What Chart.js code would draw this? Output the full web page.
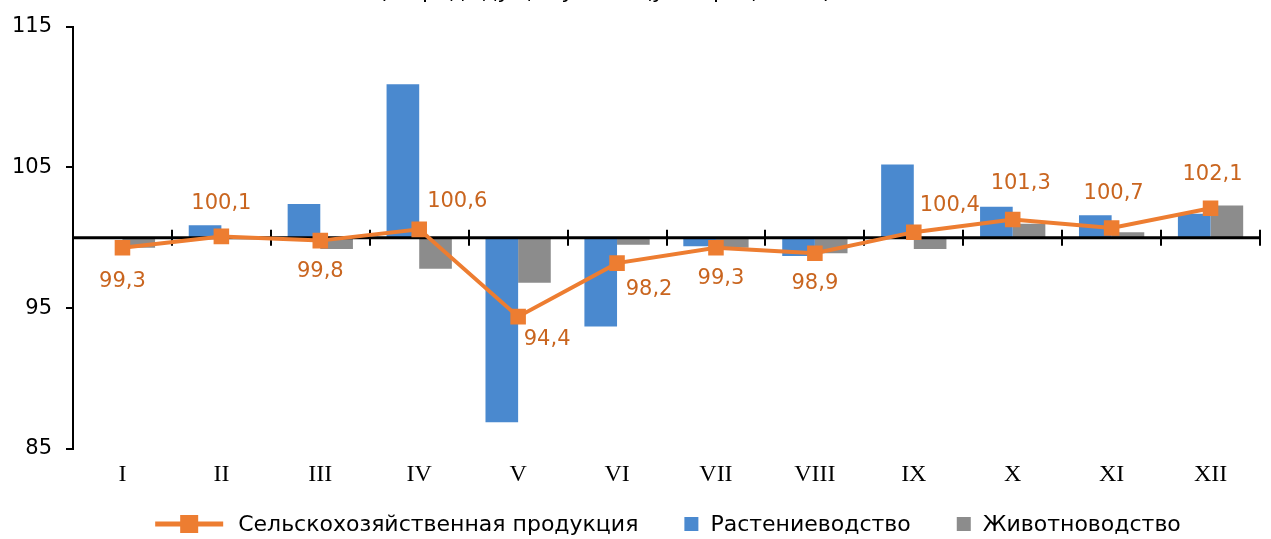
<!DOCTYPE html>
<html>
<head>
<meta charset="utf-8">
<script src="https://cdn.jsdelivr.net/npm/chart.js@4.4.1/dist/chart.umd.min.js"></script>
<style>
    html, body { margin: 0; padding: 0; background: #fff; overflow: hidden; }
    #wrap { position: relative; width: 1271px; height: 539px; }
</style>
</head>
<body>
<div id="wrap"><canvas id="chart"></canvas></div>
<script>
// ---- data ----
const months = ['I', 'II', 'III', 'IV', 'V', 'VI', 'VII', 'VIII', 'IX', 'X', 'XI', 'XII'];
const totalProduction = [99.3, 100.1, 99.8, 100.6, 94.4, 98.2, 99.3, 98.9, 100.4, 101.3, 100.7, 102.1];
const cropProduction = [100.0, 100.9, 102.4, 110.9, 86.9, 93.7, 99.4, 98.7, 105.2, 102.2, 101.6, 101.7];
const livestockProduction = [99.3, 100.0, 99.2, 97.8, 96.8, 99.5, 99.3, 98.9, 99.2, 101.0, 100.4, 102.3];
const yTicks = [85, 95, 105, 115];
const baseLevel = 100;
const titleText = '(к предыдущему месяцу, в процентах)';

// label placement next to each marker [dx, dy]
const labelOffsets = [[0, 34], [0, -33], [0, 31], [38, -28], [29, 23], [32, 26],
                      [5, 31], [0, 30], [36, -27], [8, -36], [2, -34], [2, -34]];

const ORANGE = '#ED7D31';
const LABEL_ORANGE = '#C9651F';
const BLUE = '#4A89CF';
const GREY = '#8C8C8C';

const fmt = v => v.toFixed(1).replace('.', ',');

// x axis drawn through 100, with tick marks between categories
const midAxis = {
    id: 'midAxis',
    beforeDatasetDraw(chart, args) {
        if (args.meta.type !== 'line') return;
        const { ctx, chartArea, scales: { x, y } } = chart;
        const yy = y.getPixelForValue(baseLevel);
        const step = x.getPixelForValue(1) - x.getPixelForValue(0);
        ctx.save();
        ctx.strokeStyle = '#000';
        ctx.lineWidth = 3;
        ctx.beginPath();
        ctx.moveTo(chartArea.left, yy);
        ctx.lineTo(chartArea.right, yy);
        ctx.stroke();
        ctx.lineWidth = 2;
        ctx.beginPath();
        for (let i = 0; i < months.length; i++) {
            const bx = Math.round(x.getPixelForValue(i) + step / 2);
            ctx.moveTo(bx, yy - 8);
            ctx.lineTo(bx, yy + 8);
        }
        ctx.stroke();
        ctx.restore();
    }
};

const valueLabels = {
    id: 'valueLabels',
    afterDatasetsDraw(chart) {
        const ctx = chart.ctx;
        const meta = chart.getDatasetMeta(0);
        ctx.save();
        ctx.font = '21px "DejaVu Sans"';
        ctx.fillStyle = LABEL_ORANGE;
        ctx.textAlign = 'center';
        ctx.textBaseline = 'middle';
        meta.data.forEach((pt, i) => {
            const [dx, dy] = labelOffsets[i];
            ctx.fillText(fmt(totalProduction[i]), pt.x + dx, pt.y + dy);
        });
        ctx.restore();
    }
};

// title is cut off by the top edge of the picture
const cutTitle = {
    id: 'cutTitle',
    afterDraw(chart) {
        const ctx = chart.ctx;
        ctx.save();
        ctx.font = '22px "DejaVu Sans"';
        ctx.fillStyle = '#000';
        ctx.textAlign = 'center';
        ctx.textBaseline = 'alphabetic';
        ctx.fillText(titleText, 605, -2);
        ctx.restore();
    }
};

const bottomLegend = {
    id: 'bottomLegend',
    afterDraw(chart) {
        const ctx = chart.ctx;
        const ds = chart.data.datasets;
        const yc = 524;
        ctx.save();
        ctx.font = '22px "DejaVu Sans"';
        ctx.textBaseline = 'middle';
        const items = ds.map(d => ({
            label: d.label,
            color: d.backgroundColor,
            isLine: d.type === 'line',
            icon: d.type === 'line' ? 68 : 14,
            gap: d.type === 'line' ? 15 : 12,
            tw: ctx.measureText(d.label).width
        }));
        const spacing = 46;
        const total = items.reduce((s, it) => s + it.icon + it.gap + it.tw, 0) + spacing * (items.length - 1);
        let x = 668 - total / 2;
        items.forEach(it => {
            if (it.isLine) {
                ctx.strokeStyle = it.color;
                ctx.lineWidth = 5;
                ctx.beginPath();
                ctx.moveTo(x, yc);
                ctx.lineTo(x + it.icon, yc);
                ctx.stroke();
                ctx.fillStyle = it.color;
                ctx.fillRect(x + it.icon / 2 - 9, yc - 9, 18, 18);
            } else {
                ctx.fillStyle = it.color;
                ctx.fillRect(x, yc - 7, 14, 14);
            }
            x += it.icon + it.gap;
            ctx.fillStyle = '#000';
            ctx.fillText(it.label, x, yc + 1);
            x += it.tw + spacing;
        });
        ctx.restore();
    }
};

const ctx = document.getElementById('chart').getContext('2d');
new Chart(ctx, {
    data: {
        labels: months,
        datasets: [
            {
                type: 'line',
                label: 'Сельскохозяйственная продукция',
                data: totalProduction,
                borderColor: ORANGE,
                backgroundColor: ORANGE,
                borderWidth: 4,
                pointStyle: 'rect',
                pointRadius: 11,
                pointHoverRadius: 11,
                pointBorderWidth: 0,
                tension: 0,
                order: 0
            },
            {
                type: 'bar',
                label: 'Растениеводство',
                data: cropProduction.map(v => [baseLevel, v]),
                backgroundColor: BLUE,
                categoryPercentage: 0.66,
                barPercentage: 1.0,
                order: 1
            },
            {
                type: 'bar',
                label: 'Животноводство',
                data: livestockProduction.map(v => [baseLevel, v]),
                backgroundColor: GREY,
                categoryPercentage: 0.66,
                barPercentage: 1.0,
                order: 2
            }
        ]
    },
    options: {
        responsive: true,
        maintainAspectRatio: false,
        animation: false,
        devicePixelRatio: 1,
        events: [],
        layout: { padding: { top: 24, right: 4, bottom: 50, left: 0 } },
        scales: {
            x: {
                offset: true,
                grid: { display: false, drawTicks: false },
                border: { display: false },
                ticks: {
                    color: '#000',
                    font: { family: 'Liberation Serif', size: 24 },
                    padding: 11,
                    maxRotation: 0
                },
                afterFit: s => { s.height = 40; }
            },
            y: {
                min: 85,
                max: 115,
                afterBuildTicks: s => { s.ticks = yTicks.map(v => ({ value: v })); },
                grid: { drawOnChartArea: false, drawTicks: true, tickLength: 7, color: '#000', lineWidth: 2 },
                border: { display: true, color: '#000', width: 2 },
                ticks: {
                    color: '#000',
                    font: { family: 'DejaVu Sans', size: 21 },
                    padding: 14
                },
                afterFit: s => { s.width = 73; }
            }
        },
        plugins: {
            legend: { display: false },
            tooltip: { enabled: false },
            title: { display: false }
        }
    },
    plugins: [midAxis, valueLabels, cutTitle, bottomLegend]
});
</script>
</body>
</html>
